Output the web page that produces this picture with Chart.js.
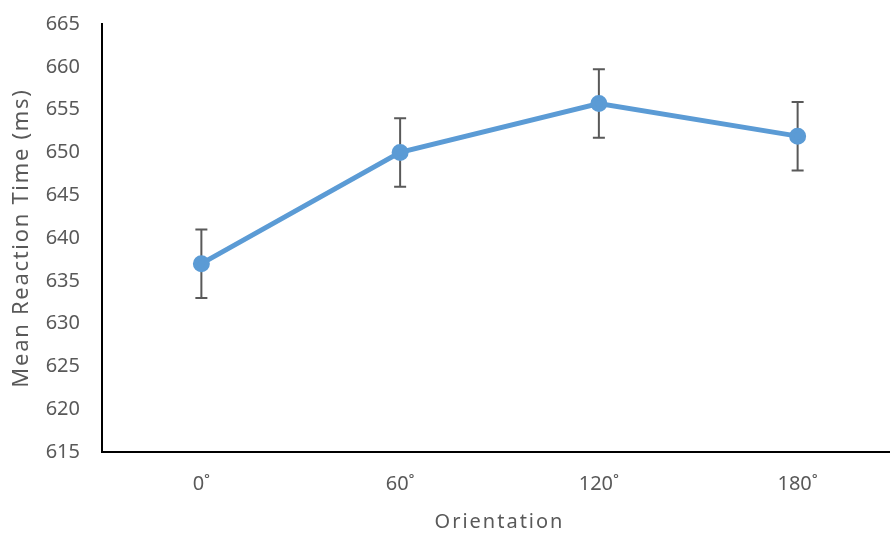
<!DOCTYPE html>
<html>
<head>
<meta charset="utf-8">
<script src="https://cdn.jsdelivr.net/npm/chart.js@4"></script>
<style>
  html, body { margin: 0; padding: 0; overflow: hidden; background: #fff; }
  #wrap { width: 908px; height: 534px; }
</style>
</head>
<body>
<div id="wrap"><canvas id="chart" width="908" height="534"></canvas></div>
<script>
// data
const orientations = ['0˚', '60˚', '120˚', '180˚'];
const meanRT = [637.0, 650.0, 655.7, 651.9];
const errRT = [4.0, 4.0, 4.0, 4.0];
const yTicks = { min: 615, max: 665, step: 5 };

const textColor = '#595959';
const fontFamily = '"Noto Sans", "Open Sans", sans-serif';

// error bars, drawn under the line so the markers sit on top
const errorBars = {
    id: 'errorBars',
    beforeDatasetsDraw(chart) {
        const ctx = chart.ctx;
        const x = chart.scales.x;
        const y = chart.scales.y;
        ctx.save();
        ctx.strokeStyle = '#595959';
        ctx.lineWidth = 2;
        meanRT.forEach((v, i) => {
            const px = x.getPixelForValue(i);
            const top = y.getPixelForValue(v + errRT[i]);
            const bot = y.getPixelForValue(v - errRT[i]);
            ctx.beginPath();
            ctx.moveTo(px, top);
            ctx.lineTo(px, bot);
            ctx.moveTo(px - 6, top);
            ctx.lineTo(px + 6, top);
            ctx.moveTo(px - 6, bot);
            ctx.lineTo(px + 6, bot);
            ctx.stroke();
        });
        ctx.restore();
    }
};

// the axis titles in the reference are letter-spaced
const spacedTitles = {
    id: 'spacedTitles',
    afterLayout(chart) {
        const spacing = { x: '2px', y: '1.7px' };
        Object.keys(spacing).forEach(id => {
            const scale = chart.scales[id];
            if (scale._spaced) return;
            const orig = scale.drawTitle;
            scale.drawTitle = function() {
                this.ctx.save();
                this.ctx.letterSpacing = spacing[id];
                orig.call(this);
                this.ctx.restore();
            };
            scale._spaced = true;
        });
    }
};

new Chart(document.getElementById('chart').getContext('2d'), {
    type: 'line',
    data: {
        labels: orientations,
        datasets: [{
            data: meanRT,
            borderColor: '#5B9BD5',
            backgroundColor: '#5B9BD5',
            borderWidth: 5,
            pointRadius: 6,
            pointHoverRadius: 6,
            tension: 0,
            fill: false
        }]
    },
    options: {
        responsive: false,
        animation: false,
        layout: { padding: { top: 24, left: 0, right: 0, bottom: 0 } },
        plugins: {
            legend: { display: false },
            tooltip: { enabled: false }
        },
        scales: {
            x: {
                offset: true,
                grid: { display: false, drawTicks: false },
                border: { display: true, color: '#000', width: 2 },
                ticks: {
                    color: textColor,
                    padding: 20,
                    font: { family: fontFamily, size: 20 }
                },
                title: {
                    display: true,
                    text: 'Orientation',
                    color: textColor,
                    padding: { top: 0, bottom: 0 },
                    font: { family: fontFamily, size: 20 }
                },
                afterFit(scale) { scale.height = 82; }
            },
            y: {
                min: yTicks.min,
                max: yTicks.max,
                grid: { display: false, drawTicks: false },
                border: { display: true, color: '#000', width: 2 },
                ticks: {
                    stepSize: yTicks.step,
                    color: textColor,
                    padding: 22,
                    font: { family: fontFamily, size: 20 }
                },
                title: {
                    display: true,
                    text: 'Mean Reaction Time (ms)',
                    color: textColor,
                    padding: { top: 9, bottom: 0 },
                    font: { family: fontFamily, size: 22 }
                },
                afterFit(scale) {
                    scale.width = 102;
                    // tick padding would otherwise push the plot top down
                    scale.paddingTop = 0;
                    scale.paddingBottom = 0;
                }
            }
        }
    },
    plugins: [errorBars, spacedTitles]
});
</script>
</body>
</html>
